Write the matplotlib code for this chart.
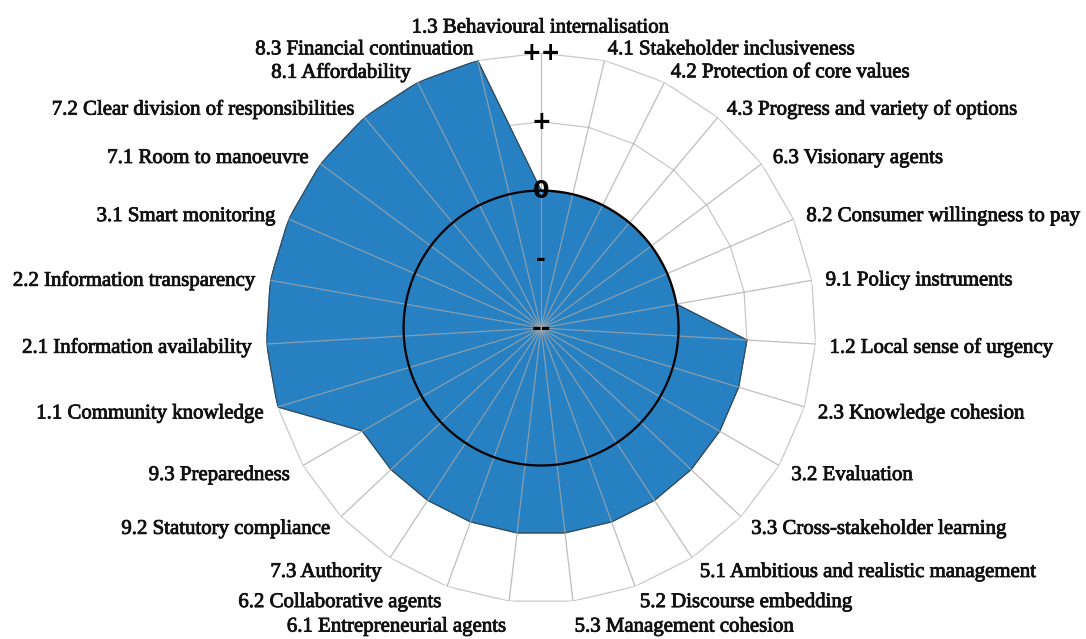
import numpy as np
import matplotlib
matplotlib.use('Agg')
import matplotlib.pyplot as plt
import matplotlib.patheffects as pe

# categorias no sentido horário a partir do topo
categorias = [
    '1.3 Behavioural internalisation', '4.1 Stakeholder inclusiveness',
    '4.2 Protection of core values', '4.3 Progress and variety of options',
    '6.3 Visionary agents', '8.2 Consumer willingness to pay',
    '9.1 Policy instruments', '1.2 Local sense of urgency',
    '2.3 Knowledge cohesion', '3.2 Evaluation', '3.3 Cross-stakeholder learning',
    '5.1 Ambitious and realistic management', '5.2 Discourse embedding',
    '5.3 Management cohesion', '6.1 Entrepreneurial agents',
    '6.2 Collaborative agents', '7.3 Authority', '9.2 Statutory compliance',
    '9.3 Preparedness', '1.1 Community knowledge', '2.1 Information availability',
    '2.2 Information transparency', '3.1 Smart monitoring', '7.1 Room to manoeuvre',
    '7.2 Clear division of responsibilities', '8.1 Affordability',
    '8.3 Financial continuation',
]
valores = [0, 0, 0, 0, 0, 0, 0, 1, 1, 1, 1, 1, 1, 1, 1, 1, 1, 1, 1,
           2, 2, 2, 2, 2, 2, 2, 2]
niveis = [-2, -1, 0, 1, 2]
rotulos_niveis = ['--', '-', '0', '+', '++']

fig = plt.figure(figsize=(10.86, 6.39), dpi=100)
ax = fig.add_axes([0.245, 0.0563, 0.5064, 0.8607], projection='polar')
ax.set_theta_zero_location('N')
ax.set_theta_direction(-1)
ax.set_ylim(niveis[0], niveis[-1])
ax.set_rorigin(niveis[0])
ax.grid(False)
ax.spines['polar'].set_visible(False)
ax.set_xticks([])
ax.set_yticks([])

n = len(categorias)
ang = np.arange(n) * 2 * np.pi / n
ang_f = np.append(ang, ang[0])
v = np.append(valores, valores[0])

# grade poligonal (por baixo da área)
for nv in niveis[1:]:
    if nv == 0:
        continue
    ax.plot(ang_f, [nv] * (n + 1), color='#C8C8C8', lw=0.9, zorder=0)

ax.fill(ang_f, v, color='#2680C2', zorder=1)
ax.plot(ang_f, v, color='#3a4550', lw=0.8, zorder=2)

# raios por cima da área
for a in ang:
    ax.plot([a, a], [niveis[0], niveis[-1]], color='#A8A8A8', lw=0.9,
            alpha=0.75, zorder=3)

tt = np.linspace(0, 2 * np.pi, 400)
ax.plot(tt, np.zeros_like(tt), color='black', lw=1.6, zorder=4)

for nv, rt in zip(niveis, rotulos_niveis):
    ax.text(0, nv, rt, ha='center', va='center', fontsize=17, fontweight='bold',
            family='DejaVu Sans', zorder=5)

R = 275.0
R0 = 289.0
grosso = [pe.withStroke(linewidth=0.6, foreground='#111111')]
for a, c in zip(ang, categorias):
    s, co = np.sin(a), np.cos(a)
    if s > 0.05:
        ha = 'left'
    elif s < -0.05:
        ha = 'right'
    else:
        ha = 'center'
    dx = (R0 - R) * s
    dy = (R0 - R) * co - 3
    if co > 0.99:
        dy += 14
    elif co < -0.99:
        dy -= 9
    ax.annotate(c, xy=(a, niveis[-1]), xytext=(dx, dy), textcoords='offset pixels',
                ha=ha, va='center', fontsize=15, family='Liberation Serif',
                color='#111111', annotation_clip=False, path_effects=grosso)

fig.savefig('out.png', dpi=100)
